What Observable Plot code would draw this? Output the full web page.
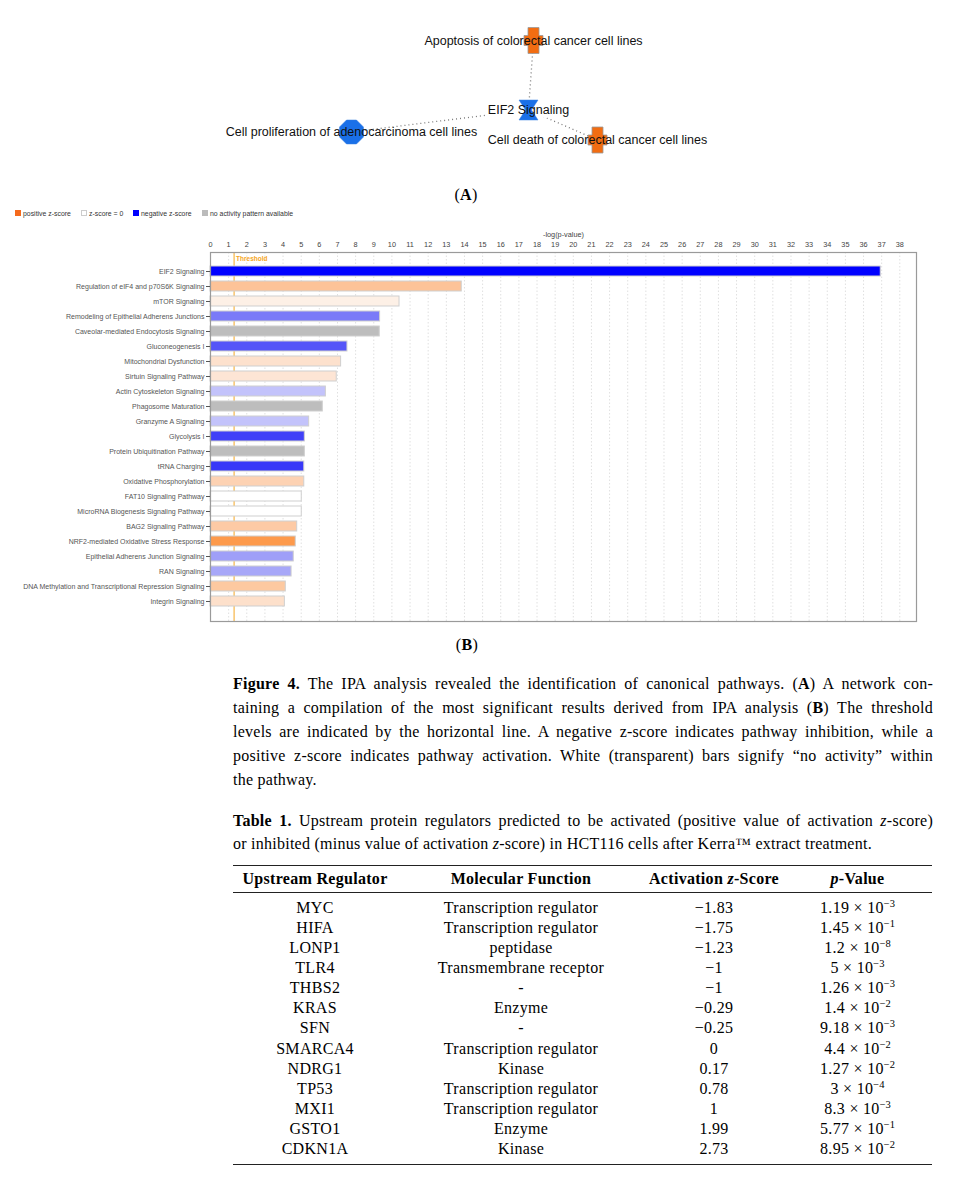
<!DOCTYPE html>
<html>
<head>
<meta charset="utf-8">
<script src="https://cdn.jsdelivr.net/npm/d3@7"></script>
<script src="https://cdn.jsdelivr.net/npm/@observablehq/plot@0.6"></script>
<style>
  html, body { margin: 0; padding: 0; background: #fff; }
  body { position: relative; width: 964px; height: 1194px; overflow: hidden; color: #000; }
  .abs { position: absolute; }
  .serif { font-family: "Liberation Serif", "Times New Roman", serif; }
  .panel { font-size: 16px; transform: translate(-50%, -50%); white-space: nowrap; letter-spacing: 0.3px; }
  .legend { font-family: "Liberation Sans", Arial, sans-serif; font-size: 6.9px; color: #333; top: 209.5px; line-height: 7px; white-space: nowrap; }
  .sw { position: absolute; width: 6px; height: 6px; top: 210px; box-sizing: border-box; }
  .cap { left: 233px; width: 700px; font-size: 16px; letter-spacing: 0.25px; }
  .cap div { white-space: nowrap; }
  table { border-collapse: collapse; font-size: 16px; letter-spacing: 0.3px; }
  th, td { padding: 0; text-align: center; font-weight: normal; white-space: nowrap; }
  th { font-weight: bold; height: 26px; }
  td { line-height: 20.08px; }
  sup { font-size: 10.5px; line-height: 0; vertical-align: 6px; letter-spacing: 0; }
</style>
</head>
<body>
<div id="netA" class="abs" style="left:0;top:0;"></div>
<div class="abs serif panel" style="left:466px;top:195px;">(<b>A</b>)</div>

<div id="legend"></div>
<div id="chartB" class="abs" style="left:0;top:222px;"></div>
<div class="abs serif panel" style="left:467px;top:645px;">(<b>B</b>)</div>

<div class="abs serif cap" style="top:672px;line-height:24px;">
  <div><span class="j"><b>Figure 4.</b> The IPA analysis revealed the identification of canonical pathways. (<b>A</b>) A network con-</span></div>
  <div><span class="j">taining a compilation of the most significant results derived from IPA analysis (<b>B</b>) The threshold</span></div>
  <div><span class="j">levels are indicated by the horizontal line. A negative z-score indicates pathway inhibition, while a</span></div>
  <div><span class="j">positive z-score indicates pathway activation. White (transparent) bars signify “no activity” within</span></div>
  <div><span>the pathway.</span></div>
</div>

<div class="abs serif cap" style="top:808.5px;line-height:23px;">
  <div><span class="j"><b>Table 1.</b> Upstream protein regulators predicted to be activated (positive value of activation <i>z</i>-score)</span></div>
  <div><span>or inhibited (minus value of activation <i>z</i>-score) in HCT116 cells after Kerra™ extract treatment.</span></div>
</div>

<table id="tbl" class="abs serif" style="left:233px;top:865px;width:699px;"></table>

<script>
// ---------- (A) network ----------
const nodeNames = ["Apoptosis of colorectal cancer cell lines", "EIF2 Signaling",
  "Cell proliferation of adenocarcinoma cell lines", "Cell death of colorectal cancer cell lines"];
const nodeX = [533, 528, 351, 597];
const nodeY = [40, 109.5, 131.5, 139.5];
const nodeKind = ["increased", "pathway", "decreased", "increased"];
const linkSource = [0, 1, 1];
const linkTarget = [1, 2, 3];

// ---------- (B) canonical pathways ----------
const pathways = ["EIF2 Signaling", "Regulation of eIF4 and p70S6K Signaling", "mTOR Signaling",
  "Remodeling of Epithelial Adherens Junctions", "Caveolar-mediated Endocytosis Signaling",
  "Gluconeogenesis I", "Mitochondrial Dysfunction", "Sirtuin Signaling Pathway",
  "Actin Cytoskeleton Signaling", "Phagosome Maturation", "Granzyme A Signaling", "Glycolysis I",
  "Protein Ubiquitination Pathway", "tRNA Charging", "Oxidative Phosphorylation",
  "FAT10 Signaling Pathway", "MicroRNA Biogenesis Signaling Pathway", "BAG2 Signaling Pathway",
  "NRF2-mediated Oxidative Stress Response", "Epithelial Adherens Junction Signaling",
  "RAN Signaling", "DNA Methylation and Transcriptional Repression Signaling", "Integrin Signaling"];
const negLogP = [36.95, 13.85, 10.42, 9.35, 9.33, 7.55, 7.2, 6.96, 6.36, 6.19, 5.44, 5.2, 5.2,
  5.17, 5.17, 5.03, 5.03, 4.78, 4.7, 4.59, 4.47, 4.15, 4.1];
const barColors = ["#0000ff", "#fdc398", "#fdf0e6", "#7a7af8", "#bdbdbd", "#5555f8", "#fde1cd",
  "#fde5d5", "#c3c3fb", "#bdbdbd", "#c3c3fb", "#4040f8", "#bdbdbd", "#3838f8", "#fdd2b3",
  "#ffffff", "#ffffff", "#fdcaa5", "#fd9a4c", "#9f9ff8", "#a7a7f8", "#fdc9a0", "#fde0cb"];
const xTicks = [0,1,2,3,4,5,6,7,8,9,10,11,12,13,14,15,16,17,18,19,20,21,22,23,24,25,26,27,28,29,30,31,32,33,34,35,36,37,38];
const threshold = 1.3;
const legendLabels = ["positive z-score", "z-score = 0", "negative z-score", "no activity pattern available"];
const legendColors = ["#f56a1c", "#ffffff", "#0000ff", "#bbbbbb"];

// ---------- Table 1 ----------
const regulators = ["MYC", "HIFA", "LONP1", "TLR4", "THBS2", "KRAS", "SFN", "SMARCA4", "NDRG1", "TP53", "MXI1", "GSTO1", "CDKN1A"];
const functions = ["Transcription regulator", "Transcription regulator", "peptidase", "Transmembrane receptor", "-", "Enzyme", "-",
  "Transcription regulator", "Kinase", "Transcription regulator", "Transcription regulator", "Enzyme", "Kinase"];
const zScores = [-1.83, -1.75, -1.23, -1, -1, -0.29, -0.25, 0, 0.17, 0.78, 1, 1.99, 2.73];
const pMantissa = ["1.19", "1.45", "1.2", "5", "1.26", "1.4", "9.18", "4.4", "1.27", "3", "8.3", "5.77", "8.95"];
const pExponent = [-3, -1, -8, -3, -3, -2, -3, -2, -2, -4, -3, -1, -2];

// ---- custom symbols ----
const crossSym = { draw(ctx, size) {
  const k = Math.sqrt(size / Math.PI) / 10;
  const aw = 5.5 * k, hw = 9.5 * k, hh = 13 * k, th = 5 * k;
  ctx.moveTo(-aw, -hh); ctx.lineTo(aw, -hh); ctx.lineTo(aw, -th); ctx.lineTo(hw, -th);
  ctx.lineTo(hw, th); ctx.lineTo(aw, th); ctx.lineTo(aw, hh); ctx.lineTo(-aw, hh);
  ctx.lineTo(-aw, th); ctx.lineTo(-hw, th); ctx.lineTo(-hw, -th); ctx.lineTo(-aw, -th); ctx.closePath();
}};
const hourglassSym = { draw(ctx, size) {
  const k = Math.sqrt(size / Math.PI) / 10;
  ctx.moveTo(-9.5 * k, -10 * k); ctx.lineTo(9.5 * k, -10 * k); ctx.lineTo(3 * k, 0);
  ctx.lineTo(9.5 * k, 10 * k); ctx.lineTo(-9.5 * k, 10 * k); ctx.lineTo(-3 * k, 0); ctx.closePath();
}};
const octagonSym = { draw(ctx, size) {
  const R = Math.sqrt(size / Math.PI) * 1.3;
  for (let i = 0; i < 8; i++) {
    const a = Math.PI / 8 + i * Math.PI / 4;
    const px = R * Math.cos(a), py = R * Math.sin(a);
    if (i === 0) ctx.moveTo(px, py); else ctx.lineTo(px, py);
  }
  ctx.closePath();
}};

const nodes = nodeNames.map((n, i) => ({ name: n, x: nodeX[i], y: nodeY[i], kind: nodeKind[i] }));
const links = linkSource.map((s, i) => ({ x1: nodeX[s], y1: nodeY[s], x2: nodeX[linkTarget[i]], y2: nodeY[linkTarget[i]] }));

const netA = Plot.plot({
  width: 964, height: 165, margin: 0,
  style: { fontFamily: "'Liberation Sans', Arial, sans-serif", background: "transparent" },
  x: { domain: [0, 964], range: [0, 964], axis: null },
  y: { domain: [0, 165], range: [0, 165], axis: null },
  marks: [
    Plot.link(links, { x1: "x1", y1: "y1", x2: "x2", y2: "y2", stroke: "#777", strokeWidth: 1.3, strokeDasharray: "1,3" }),
    Plot.text(nodes.filter(d => d.kind === "pathway"), { x: "x", y: "y", text: "name", fontSize: 12.5, fill: "none", stroke: "white", strokeWidth: 7 }),
    Plot.dot(nodes.filter(d => d.kind === "increased"), { x: "x", y: "y", r: 10, symbol: crossSym, fill: "#f26d12", stroke: "#9a9a9a", strokeWidth: 0.8 }),
    Plot.dot(nodes.filter(d => d.kind === "pathway"), { x: "x", y: "y", r: 10, symbol: hourglassSym, fill: "#1a70e8", stroke: "#3a80e0", strokeWidth: 0.5 }),
    Plot.dot(nodes.filter(d => d.kind === "decreased"), { x: "x", y: "y", r: 10, symbol: octagonSym, fill: "#1a70e8", stroke: "#3a80e0", strokeWidth: 0.5 }),
    Plot.text(nodes, { x: "x", y: "y", text: "name", fontSize: 12.5, fill: "#111" })
  ]
});
document.getElementById("netA").appendChild(netA);

// ---- legend ----
const legendX = [15, 81, 133, 202];
const legendEl = document.getElementById("legend");
legendLabels.forEach((lab, i) => {
  const sw = document.createElement("div");
  sw.className = "sw";
  sw.style.left = legendX[i] + "px";
  sw.style.background = legendColors[i];
  if (legendColors[i] === "#ffffff") sw.style.border = "0.8px solid #ccc";
  legendEl.appendChild(sw);
  const t = document.createElement("div");
  t.className = "abs legend";
  t.style.left = (legendX[i] + 8) + "px";
  t.textContent = lab;
  legendEl.appendChild(t);
});

// ---- bar chart ----
const rows = pathways.map((p, i) => ({ pathway: p, value: negLogP[i] }));
const chartB = Plot.plot({
  width: 964, height: 403,
  marginTop: 30, marginBottom: 4, marginLeft: 210, marginRight: 48,
  style: { fontFamily: "'Liberation Sans', Arial, sans-serif", background: "transparent" },
  x: { domain: [0, 38.92], axis: null },
  y: { domain: pathways, paddingInner: 0.33, paddingOuter: 0.78, axis: null },
  color: { type: "ordinal", domain: pathways, range: barColors },
  marks: [
    Plot.gridX(xTicks, { stroke: "#e0e0e0", strokeOpacity: 1, strokeDasharray: "1.5,2" }),
    Plot.ruleX([threshold], { stroke: "#f5a623", strokeWidth: 1 }),
    Plot.barX(rows, { x: "value", y: "pathway", fill: "pathway", stroke: "#cfcfcf", strokeWidth: 1 }),
    Plot.frame({ stroke: "#9a9a9a", strokeWidth: 1.2 }),
    Plot.axisX({ anchor: "top", ticks: xTicks, tickSize: 0, tickPadding: 6, fontSize: 7.3, color: "#444", label: null }),
    Plot.axisY({ anchor: "left", tickSize: 4, tickPadding: 2, fontSize: 7, color: "#555", label: null }),
    Plot.text(["-log(p-value)"], { text: d => d, frameAnchor: "top", dy: -21, fontSize: 7.3, fill: "#444" }),
    Plot.text(["Threshold"], { text: d => d, x: () => threshold, frameAnchor: "top", dy: 4, dx: 2, textAnchor: "start", fill: "#f5a623", fontWeight: "bold", fontSize: 6.5 })
  ]
});
document.getElementById("chartB").appendChild(chartB);

// ---- table ----
const fmtZ = v => (v < 0 ? "\u2212" : "") + String(Math.abs(v));
const fmtExp = e => (e < 0 ? "\u2212" : "") + Math.abs(e);
let html = '<thead><tr style="border-top:1.5px solid #222;border-bottom:0.8px solid #222;">' +
  '<th style="width:164px">Upstream Regulator</th><th style="width:248px">Molecular Function</th>' +
  '<th style="width:138px">Activation <i>z</i>-Score</th><th style="width:149px"><i>p</i>-Value</th></tr></thead><tbody>';
regulators.forEach((r, i) => {
  const pad = i === 0 ? "padding-top:5px;" : (i === regulators.length - 1 ? "padding-bottom:5px;" : "");
  html += `<tr${i === regulators.length - 1 ? ' style="border-bottom:1.5px solid #222;"' : ""}>` +
    `<td style="${pad}">${r}</td><td style="${pad}">${functions[i]}</td><td style="${pad}">${fmtZ(zScores[i])}</td>` +
    `<td style="${pad}">${pMantissa[i]} × 10<sup>${fmtExp(pExponent[i])}</sup></td></tr>`;
});
html += "</tbody>";
document.getElementById("tbl").innerHTML = html;

// ---- justify caption lines to 700px ----
function justifyLines() {
  document.querySelectorAll(".cap .j").forEach(span => {
    span.style.wordSpacing = "0px";
    const w = span.getBoundingClientRect().width;
    const n = (span.textContent.match(/ /g) || []).length;
    if (n) span.style.wordSpacing = ((700 - w) / n) + "px";
  });
}
justifyLines();
if (document.fonts && document.fonts.ready) document.fonts.ready.then(justifyLines);
</script>
</body>
</html>
